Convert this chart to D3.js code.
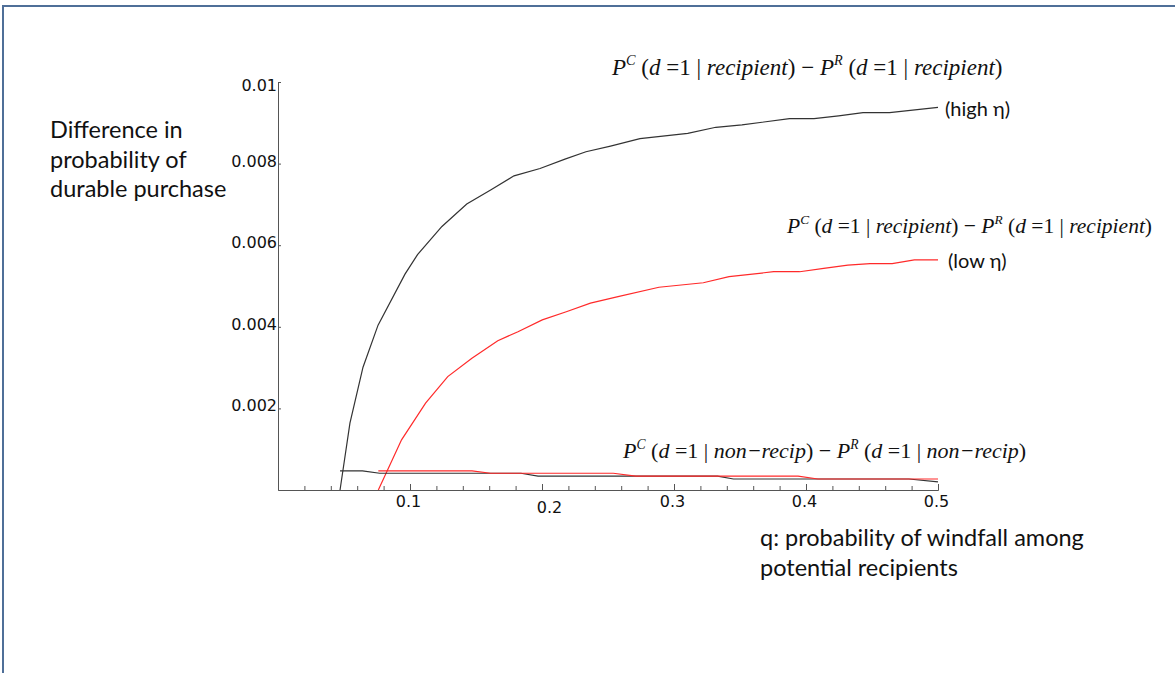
<!DOCTYPE html>
<html>
<head>
<meta charset="utf-8">
<script src="https://cdn.jsdelivr.net/npm/d3@7"></script>
<style>
  body { margin: 0; background: #fff; }
  svg { display: block; }
  .tick text { font-family: 'DejaVu Sans', sans-serif; font-size: 16px; fill: #111; }
  .axis path, .axis line { stroke: #555; }
  .label { font-family: Lato, 'Open Sans', sans-serif; font-size: 23.5px; fill: #111; }
  .note { font-family: Lato, 'Open Sans', sans-serif; font-size: 20px; fill: #111; }
  .formula { font-family: 'Liberation Serif', 'Times New Roman', serif; fill: #111; }
</style>
</head>
<body>
<svg width="1175" height="673"></svg>
<script>
// q values / differences
const highRecipQ = [0.047, 0.0545, 0.0644, 0.0758, 0.0962, 0.1057, 0.1242, 0.143, 0.1614, 0.1788, 0.1985, 0.2174, 0.2333, 0.2519, 0.2742, 0.3104, 0.3317, 0.3515, 0.3875, 0.4061, 0.4247, 0.4432, 0.4633, 0.5];
const highRecipVal = [0, 0.00164, 0.00301, 0.00404, 0.00529, 0.00577, 0.00646, 0.00701, 0.00736, 0.0077, 0.00788, 0.00811, 0.00829, 0.00843, 0.00861, 0.00874, 0.00889, 0.00895, 0.0091, 0.0091, 0.00917, 0.00925, 0.00925, 0.00938];

const lowRecipQ = [0.076, 0.0936, 0.1118, 0.1286, 0.1469, 0.1665, 0.1818, 0.2002, 0.2184, 0.2367, 0.2576, 0.2886, 0.3222, 0.3417, 0.3755, 0.3952, 0.4134, 0.4317, 0.4485, 0.4653, 0.4821, 0.5];
const lowRecipVal = [0, 0.00123, 0.00213, 0.00278, 0.00323, 0.00366, 0.00388, 0.00417, 0.00437, 0.00458, 0.00474, 0.00497, 0.00508, 0.00523, 0.00535, 0.00535, 0.00543, 0.00551, 0.00555, 0.00555, 0.00564, 0.00564];

const highNonQ = [0.047, 0.064, 0.077, 0.184, 0.197, 0.333, 0.345, 0.478, 0.5];
const highNonVal = [0.00047, 0.00047, 0.00041, 0.00041, 0.00034, 0.00034, 0.00027, 0.00027, 0.0002];

const lowNonQ = [0.076, 0.147, 0.161, 0.254, 0.271, 0.394, 0.409, 0.5];
const lowNonVal = [0.00047, 0.00047, 0.00041, 0.00041, 0.00034, 0.00034, 0.00027, 0.00027];

const xMajor = [0.1, 0.2, 0.3, 0.4, 0.5];
const xMinor = [0.02, 0.04, 0.06, 0.08, 0.12, 0.14, 0.16, 0.18, 0.22, 0.24, 0.26, 0.28, 0.32, 0.34, 0.36, 0.38, 0.42, 0.44, 0.46, 0.48];
const yTicks = [0.002, 0.004, 0.006, 0.008, 0.01];
const yTickLabels = ['0.002', '0.004', '0.006', '0.008', '0.01'];

const svg = d3.select('svg');

// slide frame
svg.append('rect')
    .attr('x', 3)
    .attr('y', 6)
    .attr('width', 1300)
    .attr('height', 800)
    .attr('fill', 'none')
    .attr('stroke', '#4f6f98')
    .attr('stroke-width', 2);

const xScale = d3.scaleLinear().domain([0, 0.5]).range([278, 938]);
const yScale = d3.scaleLinear().domain([0, 0.01]).range([490, 82]);

// x axis: minor ticks, then major ticks with labels (ticks point up)
svg.append('g')
    .attr('class', 'axis')
    .attr('transform', `translate(0, ${yScale(0)})`)
    .call(d3.axisBottom(xScale).tickValues(xMinor).tickSize(-4).tickSizeOuter(0).tickFormat(''));

const xAxis = svg.append('g')
    .attr('class', 'axis')
    .attr('transform', `translate(0, ${yScale(0)})`)
    .call(d3.axisBottom(xScale).tickValues(xMajor).tickSize(-6).tickSizeOuter(0).tickPadding(6).tickFormat(d3.format('.1f')));

// the 0.2 label sits a little off in the original
xAxis.selectAll('.tick text')
    .attr('dx', d => d === 0.2 ? 7 : -2)
    .attr('dy', d => d === 0.2 ? '1.05em' : '0.71em');

const yAxis = svg.append('g')
    .attr('class', 'axis')
    .attr('transform', `translate(${xScale(0)}, 0)`)
    .call(d3.axisLeft(yScale).tickValues(yTicks).tickSize(-3).tickSizeOuter(0).tickPadding(1)
        .tickFormat((d, i) => yTickLabels[i]));

yAxis.selectAll('.tick text').attr('dy', '0.15em');
yAxis.select('.tick:last-of-type text').attr('dy', '0.55em');

const line = d3.line()
    .x(d => xScale(d[0]))
    .y(d => yScale(d[1]));

const series = [
    { q: highRecipQ, v: highRecipVal, color: '#333' },
    { q: lowRecipQ, v: lowRecipVal, color: '#ff2a2a' },
    { q: highNonQ, v: highNonVal, color: '#333' },
    { q: lowNonQ, v: lowNonVal, color: '#ff2a2a' }
];

svg.selectAll('.curve')
    .data(series)
    .enter()
    .append('path')
    .attr('class', 'curve')
    .attr('fill', 'none')
    .attr('stroke', s => s.color)
    .attr('stroke-width', 1.2)
    .attr('d', s => line(s.q.map((q, i) => [q, s.v[i]])));

// axis titles
const yLabel = svg.append('text')
    .attr('class', 'label')
    .attr('x', 50)
    .attr('y', 138);
['Difference in', 'probability of', 'durable purchase'].forEach((t, i) => {
    yLabel.append('tspan').attr('x', 50).attr('dy', i === 0 ? 0 : 29.5).text(t);
});

const xLabel = svg.append('text')
    .attr('class', 'label')
    .attr('x', 760)
    .attr('y', 546);
['q: probability of windfall among', 'potential recipients'].forEach((t, i) => {
    xLabel.append('tspan').attr('x', 760).attr('dy', i === 0 ? 0 : 29.5).text(t);
});

// formulas
function formula(x, y, size, who) {
    const pieces = [
        ['P', 'i'], ['C', 's'], [' (', ''], ['d', 'i'], [' =1 | ', ''], [who, 'i'], [')', ''],
        [' \u2212 ', ''], ['P', 'i'], ['R', 's'], [' (', ''], ['d', 'i'], [' =1 | ', ''], [who, 'i'], [')', '']
    ];
    const t = svg.append('text')
        .attr('class', 'formula')
        .attr('font-size', size)
        .attr('x', x)
        .attr('y', y)
        .attr('xml:space', 'preserve');
    pieces.forEach(p => {
        const ts = t.append('tspan').text(p[0]);
        if (p[1] === 'i') ts.attr('font-style', 'italic');
        if (p[1] === 's') {
            ts.attr('font-style', 'italic').attr('font-size', size * 0.62).attr('dy', -size * 0.42);
        } else {
            ts.attr('y', y);
        }
    });
}

formula(612, 75, 23, 'recipient');
formula(787, 233, 21.5, 'recipient');
formula(623, 458, 22, 'non\u2212recip');

svg.append('text').attr('class', 'note').attr('x', 945).attr('y', 116).text('(high \u03b7)');
svg.append('text').attr('class', 'note').attr('x', 948).attr('y', 268).text('(low \u03b7)');
</script>
</body>
</html>
